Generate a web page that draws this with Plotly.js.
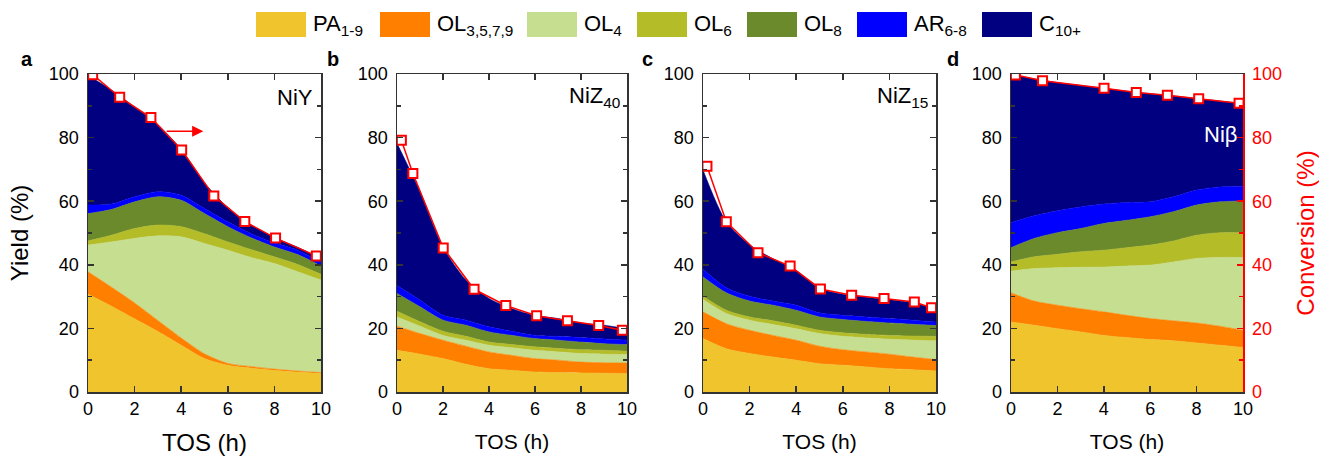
<!DOCTYPE html>
<html><head><meta charset="utf-8">
<script src="https://cdn.plot.ly/plotly-3.0.1.min.js"></script>
<style>html,body{margin:0;padding:0;background:#fff}#chart{width:1319px;height:456px}</style>
</head><body><div id="chart"></div>
<script>
// ---------------- DATA ----------------
const tos = [0, 1, 2, 3, 4, 5, 6, 7, 8, 9, 10];
const seriesNames = ['PA<sub>1-9</sub>', 'OL<sub>3,5,7,9</sub>', 'OL<sub>4</sub>', 'OL<sub>6</sub>', 'OL<sub>8</sub>', 'AR<sub>6-8</sub>', 'C<sub>10+</sub>'];
const panelLetters = ['a', 'b', 'c', 'd'];
const catalysts = ['NiY', 'NiZ<sub>40</sub>', 'NiZ<sub>15</sub>', 'Niβ'];

// a: NiY yields (%)
const niY_PA     = [30.7, 27, 23, 19, 14.7, 10.5, 8.4, 7.5, 6.8, 6.3, 5.8];
const niY_OL3579 = [7.1, 6, 5, 3.5, 2.3, 1.5, 0.6, 0.5, 0.4, 0.3, 0.3];
const niY_OL4    = [8.4, 14.2, 20.3, 26.6, 31.8, 34.7, 35.6, 34.3, 33.2, 31.2, 29.1];
const niY_OL6    = [1.3, 2.1, 3.1, 3.4, 3.2, 3.1, 2.6, 2.5, 2.1, 2.3, 1.8];
const niY_OL8    = [8.6, 8.1, 8.4, 8.9, 8.3, 6.3, 4.8, 3.7, 3.1, 3.1, 2.6];
const niY_AR     = [2.7, 1.7, 1.6, 1.6, 1.6, 1.6, 1.5, 1.3, 1.3, 1.4, 1.0];
const niY_C10    = [40.7, 35.9, 28.2, 21, 14.4, 8.1, 4.5, 2.7, 1.7, 0.9, 1.4];
const niY_convT  = [0.2, 1.36, 2.7, 4.02, 5.4, 6.73, 8.05, 9.8];
const niY_conv   = [99.8, 92.7, 86.3, 76.1, 61.6, 53.6, 48.4, 42.8];

// b: NiZ40 yields (%)
const niZ40_PA     = [13.1, 11.9, 10.5, 8.7, 7.3, 6.8, 6.3, 6.1, 6.0, 5.9, 5.8];
const niZ40_OL3579 = [7.6, 6.5, 5.8, 5.7, 5.3, 4.7, 4.2, 3.9, 3.4, 3.3, 3.3];
const niZ40_OL4    = [2.9, 2.3, 1.5, 1.9, 2.1, 2.4, 2.6, 2.6, 2.7, 2.7, 2.7];
const niZ40_OL6    = [1.8, 1.4, 1.3, 1.2, 1.0, 1.0, 1.1, 1.1, 1.2, 1.2, 1.0];
const niZ40_OL8    = [5.6, 4.7, 3.5, 3.5, 3.2, 2.9, 2.6, 2.6, 2.4, 2.1, 2.1];
const niZ40_AR     = [2.5, 2.1, 1.5, 1.6, 1.6, 1.3, 1.0, 1.2, 1.4, 1.5, 1.4];
const niZ40_C10    = [44.7, 34.1, 21.5, 12.6, 8.9, 7.1, 6.3, 5.6, 4.6, 4.3, 3.6];
const niZ40_convT  = [0.19, 0.69, 2.01, 3.35, 4.73, 6.07, 7.41, 8.77, 9.8];
const niZ40_conv   = [79.2, 68.7, 45.3, 32.3, 27.2, 24.0, 22.4, 20.9, 19.4];

// c: NiZ15 yields (%)
const niZ15_PA     = [16.8, 13.6, 12.1, 11, 10, 8.9, 8.4, 7.9, 7.3, 7, 6.6];
const niZ15_OL3579 = [8.4, 7.9, 7.3, 6.8, 6.3, 5.5, 4.9, 4.7, 4.6, 4.0, 3.6];
const niZ15_OL4    = [3.9, 3.2, 3.2, 3.4, 3.6, 4.0, 4.2, 4.4, 4.7, 5.3, 5.9];
const niZ15_OL6    = [1.0, 1.0, 1.0, 1.2, 1.1, 1.0, 1.1, 1.1, 1.2, 1.3, 1.4];
const niZ15_OL8    = [6.1, 5.5, 5.0, 4.9, 4.7, 4.2, 4.2, 4.1, 3.9, 3.7, 3.4];
const niZ15_AR     = [2.4, 1.6, 1.5, 1.3, 1.6, 1.3, 1.3, 1.4, 1.4, 1.3, 1.1];
const niZ15_C10    = [31.2, 20.7, 16.2, 13.3, 10.9, 7.7, 6.6, 6.2, 5.9, 5.4, 4.2];
const niZ15_convT  = [0.17, 1.0, 2.36, 3.74, 5.04, 6.38, 7.77, 9.07, 9.81];
const niZ15_conv   = [71.0, 53.5, 43.8, 39.6, 32.4, 30.4, 29.4, 28.3, 26.5];

// d: Nibeta yields (%)
const niB_PA     = [22, 21, 19.9, 18.9, 17.8, 17.1, 16.5, 16.1, 15.4, 14.7, 14];
const niB_OL3579 = [9.2, 7.6, 7.4, 7.3, 7.4, 7.0, 6.6, 6.3, 6.3, 6.0, 5.4];
const niB_OL4    = [6.8, 10.2, 11.8, 13, 14.1, 15.5, 16.8, 18.5, 20.3, 21.6, 22.9];
const niB_OL6    = [2.9, 3.7, 4.2, 4.9, 5.3, 5.8, 6.3, 6.6, 7.3, 7.8, 7.8];
const niB_OL8    = [4.5, 5.8, 6.8, 7.3, 8.4, 8.6, 8.9, 9.2, 9.5, 9.7, 10];
const niB_AR     = [7.9, 7.1, 6.9, 6.8, 6.1, 5.6, 4.7, 4.7, 4.7, 4.7, 4.6];
const niB_C10    = [46.5, 43.1, 40.3, 38.2, 36.4, 35.0, 34.0, 31.7, 28.8, 27.0, 26.0];
const niB_convT  = [0.19, 1.36, 4.01, 5.40, 6.74, 8.09, 9.83];
const niB_conv   = [99.7, 97.9, 95.5, 94.2, 93.3, 92.2, 90.8];

// ---------------- STYLE ----------------
const seriesColors = ['#EFC42C', '#FF8000', '#C6DE8F', '#B4BC28', '#6B8A2B', '#0000FF', '#000080'];
const W = 1319, H = 456, ML = 88, MR = 76, MT = 74, MB = 64;
const PW = W - ML - MR, PH = H - MT - MB;
const fx = px => (px - ML) / PW;
const fy = py => (H - MB - py) / PH;
const FONT = 'Liberation Sans, Arial, sans-serif';
const AX = '#333333';

const panels = [
  {comps: [niY_PA, niY_OL3579, niY_OL4, niY_OL6, niY_OL8, niY_AR, niY_C10], t: niY_convT, c: niY_conv},
  {comps: [niZ40_PA, niZ40_OL3579, niZ40_OL4, niZ40_OL6, niZ40_OL8, niZ40_AR, niZ40_C10], t: niZ40_convT, c: niZ40_conv},
  {comps: [niZ15_PA, niZ15_OL3579, niZ15_OL4, niZ15_OL6, niZ15_OL8, niZ15_AR, niZ15_C10], t: niZ15_convT, c: niZ15_conv},
  {comps: [niB_PA, niB_OL3579, niB_OL4, niB_OL6, niB_OL8, niB_AR, niB_C10], t: niB_convT, c: niB_conv}
];
const domainsPx = [[88, 321], [397, 627], [703, 936], [1011, 1243]];

const traces = [];
panels.forEach((p, k) => {
  const sfx = k === 0 ? '' : String(k + 1);
  p.comps.forEach((vals, i) => {
    traces.push({
      x: tos, y: vals, xaxis: 'x' + sfx, yaxis: 'y' + sfx,
      stackgroup: 'g' + k, mode: 'lines', name: seriesNames[i],
      line: {width: 0.6, shape: 'spline', smoothing: 0.8, color: seriesColors[i]},
      fillcolor: seriesColors[i], showlegend: false, hoverinfo: 'skip'
    });
  });
  traces.push({
    x: p.t, y: p.c, xaxis: 'x' + sfx, yaxis: k === 3 ? 'y5' : 'y' + sfx,
    mode: 'lines+markers', name: 'Conversion', showlegend: false,
    line: {color: '#FF0000', width: 1.5},
    marker: {symbol: 'square', size: 9, color: '#FFFFFF', line: {color: '#FF0000', width: 2}}
  });
});

const layout = {
  width: W, height: H, margin: {l: ML, r: MR, t: MT, b: MB},
  paper_bgcolor: '#fff', plot_bgcolor: '#fff', showlegend: false,
  font: {family: FONT, color: '#000'},
  annotations: [], shapes: []
};

domainsPx.forEach((d, k) => {
  const sfx = k === 0 ? '' : String(k + 1);
  layout['xaxis' + sfx] = {
    domain: [fx(d[0]), fx(d[1])], anchor: 'y' + sfx, range: [0, 10], dtick: 2, tick0: 0,
    ticks: 'inside', ticklen: 6, tickwidth: 1.5, tickcolor: AX,
    showline: true, linecolor: AX, linewidth: 1.5, mirror: 'ticks',
    showgrid: false, zeroline: false, fixedrange: true,
    tickfont: {family: FONT, size: 18, color: '#000'},
    title: {text: 'TOS (h)', font: {family: FONT, size: k === 0 ? 24 : 21, color: '#000'}, standoff: 16}
  };
  const yax = {
    domain: [0, 1], anchor: 'x' + sfx, range: [0, 100], dtick: 20, tick0: 0,
    ticks: 'inside', ticklen: 6, tickwidth: 1.5, tickcolor: AX,
    minor: {dtick: 10, ticks: 'inside', ticklen: 4, tickwidth: 1.5, tickcolor: AX},
    showline: true, linecolor: AX, linewidth: 1.5, mirror: k === 3 ? false : 'ticks',
    showgrid: false, zeroline: false, fixedrange: true, ticklabelstandoff: 4,
    tickfont: {family: FONT, size: 18, color: '#000'}
  };
  if (k === 0) yax.title = {text: 'Yield (%)', font: {family: FONT, size: 24, color: '#000'}, standoff: 13};
  layout['yaxis' + sfx] = yax;
});
layout.yaxis5 = {
  overlaying: 'y4', side: 'right', anchor: 'x4', range: [0, 100], dtick: 20, tick0: 0,
  ticks: 'inside', ticklen: 6, tickwidth: 1.5, tickcolor: '#FF0000',
  minor: {dtick: 10, ticks: 'inside', ticklen: 4, tickwidth: 1.5, tickcolor: '#FF0000'},
  showline: true, linecolor: '#FF0000', linewidth: 1.5,
  showgrid: false, zeroline: false, fixedrange: true, ticklabelstandoff: 4,
  tickfont: {family: FONT, size: 18, color: '#FF0000'},
  title: {text: 'Conversion (%)', font: {family: FONT, size: 24, color: '#FF0000'}, standoff: 16}
};

// panel letters and catalyst labels
const letterPx = [27, 333, 647, 953];
letterPx.forEach((px, k) => {
  layout.annotations.push({xref: 'paper', yref: 'paper', x: fx(px), y: fy(59), text: '<b>' + panelLetters[k] + '</b>',
    showarrow: false, xanchor: 'center', yanchor: 'middle', font: {family: FONT, size: 20, color: '#000'}});
});
const catRightPx = [315, 622, 930, 1239];
catalysts.forEach((t, k) => {
  layout.annotations.push({xref: 'paper', yref: 'paper', x: fx(catRightPx[k]), y: fy(k === 3 ? 134 : 97), text: t,
    showarrow: false, xanchor: 'right', yanchor: 'middle',
    font: {family: FONT, size: 22, color: k === 3 ? '#FFFFFF' : '#000'}});
});
// red arrow in panel a
layout.annotations.push({xref: 'x', yref: 'y', axref: 'x', ayref: 'y', x: 4.95, y: 82, ax: 3.25, ay: 82,
  text: ' ', showarrow: true, arrowhead: 2, arrowsize: 1.4, arrowwidth: 1.6, arrowcolor: '#FF0000'});

// legend (swatches + labels)
const legSwatchLeftPx = [256, 380, 527, 637, 747, 857, 982];
seriesNames.forEach((nm, i) => {
  const x0 = legSwatchLeftPx[i];
  layout.shapes.push({type: 'rect', xref: 'paper', yref: 'paper', x0: fx(x0), x1: fx(x0 + 50), y0: fy(37), y1: fy(12),
    fillcolor: seriesColors[i], line: {width: 0}});
  layout.annotations.push({xref: 'paper', yref: 'paper', x: fx(x0 + 55), y: fy(25), text: nm, showarrow: false,
    xanchor: 'left', yanchor: 'middle', font: {family: FONT, size: 22, color: '#000'}});
});

Plotly.newPlot('chart', traces, layout, {displayModeBar: false, staticPlot: true});
</script></body></html>
